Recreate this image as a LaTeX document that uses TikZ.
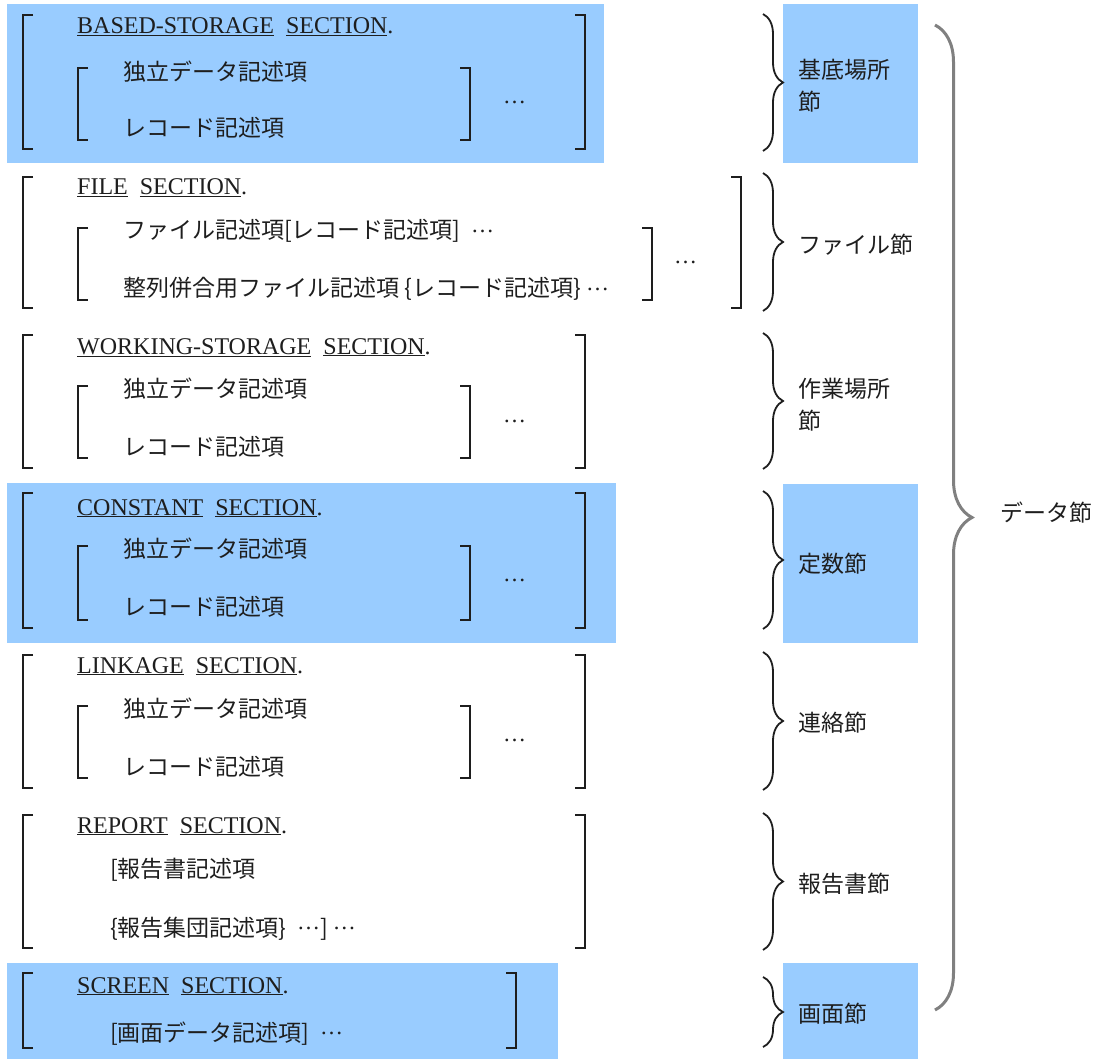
\documentclass[tikz,border=0pt]{standalone}
\usepackage{fontspec}
\setmainfont{Liberation Serif}
\newfontfamily\jpfont{Noto Sans CJK JP}
\usepackage{tikz}
\usetikzlibrary{decorations.pathreplacing}
\definecolor{secblue}{HTML}{99CCFF}
\definecolor{ink}{HTML}{1E1E1E}
\newcommand{\sqopen}[3]{\draw[sqline] (#1+10,#2) -- (#1,#2) -- (#1,#3) -- (#1+10,#3);}
\newcommand{\sqclose}[3]{\draw[sqline] (#1-10,#2) -- (#1,#2) -- (#1,#3) -- (#1-10,#3);}
\newcommand{\kw}[2]{\underline{#1}\ \ \underline{#2}.}
\newcommand{\rep}{{\rmfamily\raisebox{0.3em}{…}}}

\begin{document}
\begin{tikzpicture}[x=1pt, y=-1pt,
    sqline/.style={line width=2pt, ink},
    curly/.style={line width=1.8pt, ink, decorate,
        decoration={brace, amplitude=20pt}},
    title/.style={anchor=base west, inner sep=0, text=ink,
        font=\fontsize{24}{28}\selectfont},
    entry/.style={anchor=base west, inner sep=0, text=ink,
        font=\jpfont\fontsize{23}{27}\selectfont}]
    \useasboundingbox (0,0) rectangle (1095,1059);
    \begin{scope} % Blue backgrounds
        \fill[secblue] (7,4) rectangle (604,163);
        \fill[secblue] (7,483) rectangle (616,643);
        \fill[secblue] (7,963) rectangle (558,1059);
        \foreach \ytop/\ybot in {4/163, 484/643, 963/1059}
            \fill[secblue] (783,\ytop) rectangle (918,\ybot);
    \end{scope}
    \begin{scope} % Outer brackets
        \foreach \ytop/\ybot in {15/149, 177/308, 335/468, 493/628,
                655/788, 815/948, 973/1048}
            {\sqopen{23}{\ytop}{\ybot}}
        \foreach \ytop/\ybot in {15/149, 335/468, 493/628, 655/788, 815/948}
            {\sqclose{585}{\ytop}{\ybot}}
        \sqclose{741}{177}{308}
        \sqclose{516}{973}{1048}
    \end{scope}
    \begin{scope} % Inner brackets
        \foreach \ytop/\ybot in {68/140, 228/300, 386/458, 546/620, 706/778}
            {\sqopen{78}{\ytop}{\ybot}}
        \foreach \ytop/\ybot in {68/140, 386/458, 546/620, 706/778}
            {\sqclose{470}{\ytop}{\ybot}}
        \sqclose{652}{228}{300}
    \end{scope}
    \begin{scope} % Section headers
        \node[title] (based) at (77,34) {\kw{BASED-STORAGE}{SECTION}};
        \node[title] (file) at (77,195) {\kw{FILE}{SECTION}};
        \node[title] (working) at (77,354) {\kw{WORKING-STORAGE}{SECTION}};
        \node[title] (const) at (77,515) {\kw{CONSTANT}{SECTION}};
        \node[title] (linkage) at (77,673) {\kw{LINKAGE}{SECTION}};
        \node[title] (report) at (77,833) {\kw{REPORT}{SECTION}};
        \node[title] (screen) at (77,993) {\kw{SCREEN}{SECTION}};
    \end{scope}
    \begin{scope} % Entries
        \node[entry] (based-a) at (123,81) {独立データ記述項};
        \node[entry] (based-b) at (123,137) {レコード記述項};
        \node[entry] (file-a) at (123,239) {ファイル記述項[レコード記述項]\ \ \rep};
        \node[entry] (file-b) at (123,297) {整列併合用ファイル記述項 \{レコード記述項\} \rep};
        \node[entry] (working-a) at (123,397) {独立データ記述項};
        \node[entry] (working-b) at (123,455) {レコード記述項};
        \node[entry] (const-a) at (123,557) {独立データ記述項};
        \node[entry] (const-b) at (123,615) {レコード記述項};
        \node[entry] (linkage-a) at (123,717) {独立データ記述項};
        \node[entry] (linkage-b) at (123,775) {レコード記述項};
        \node[entry] (report-a) at (110,877) {[報告書記述項};
        \node[entry] (report-b) at (110,936) {\{報告集団記述項\}\ \ \rep] \rep};
        \node[entry] (screen-a) at (110,1041) {[画面データ記述項]\ \ \rep};
        % repeat marks
        \node[entry] (based-rep) at (503,110) {\rep};
        \node[entry] (file-rep) at (674,270) {\rep};
        \node[entry] (working-rep) at (503,429) {\rep};
        \node[entry] (const-rep) at (503,588) {\rep};
        \node[entry] (linkage-rep) at (503,748) {\rep};
    \end{scope}
    \begin{scope} % Braces and section names
        \foreach \ytop/\ybot in {14/151, 173/311, 333/469, 491/629,
                652/790, 813/950, 977/1047}
            \draw[curly] (763,\ytop) -- (763,\ybot);
        \node[entry] (n-based) at (798,79) {基底場所};
        \node[entry] (n-based2) at (798,111) {節};
        \node[entry] (n-file) at (798,254) {ファイル節};
        \node[entry] (n-working) at (798,397) {作業場所};
        \node[entry] (n-working2) at (798,429) {節};
        \node[entry] (n-const) at (798,572) {定数節};
        \node[entry] (n-linkage) at (798,731) {連絡節};
        \node[entry] (n-report) at (798,892) {報告書節};
        \node[entry] (n-screen) at (798,1022) {画面節};
    \end{scope}
    \draw[line width=3pt, black!50, decorate,
        decoration={brace, amplitude=37pt}] (935,25) -- (935,1010);
    \node[entry] (data) at (1000,521) {データ節};
\end{tikzpicture}
\end{document}
